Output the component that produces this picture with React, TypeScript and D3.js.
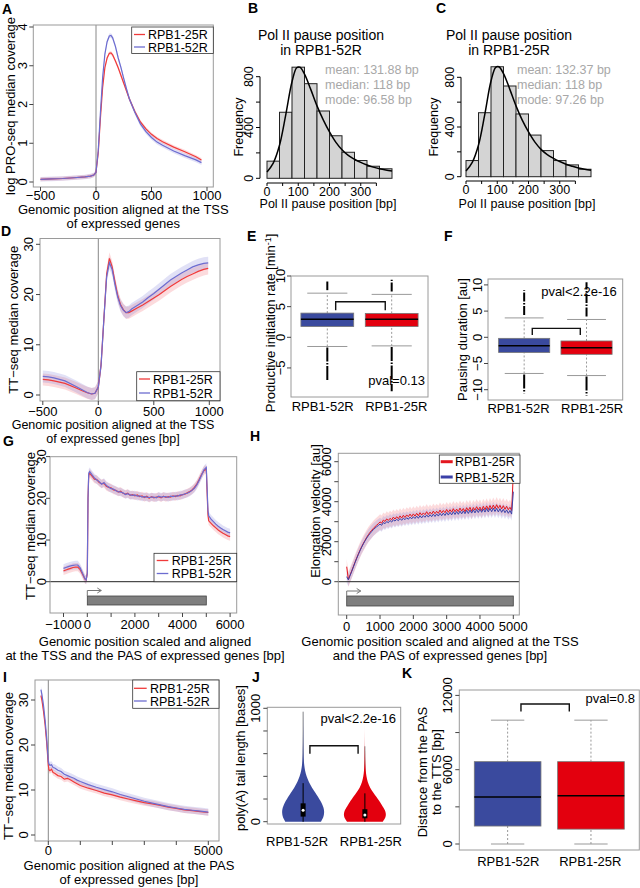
import React from "react";
import * as d3 from "d3";

const FONT = "'Liberation Sans', Arial, Helvetica, sans-serif";

// ================= DATA =================
const LEGEND_SERIES = ["RPB1-25R", "RPB1-52R"];
const GROUPS = ["RPB1-52R", "RPB1-25R"];

// A: PRO-seq around TSS
const A_POS = [-500,-400,-300,-200,-100,-50,-20,0,20,40,60,80,100,120,135,150,175,200,225,250,275,300,350,400,450,500,550,600,700,800,900,950];
const A_25R = [0.07,0.08,0.09,0.11,0.13,0.15,0.18,0.25,0.75,1.65,2.45,2.95,3.2,3.32,3.33,3.28,3.12,2.95,2.75,2.55,2.35,2.15,1.82,1.55,1.37,1.23,1.12,1.04,0.9,0.78,0.65,0.57];
const A_52R = [0.07,0.08,0.09,0.11,0.13,0.15,0.18,0.25,0.8,1.8,2.7,3.3,3.62,3.77,3.78,3.72,3.5,3.2,2.95,2.67,2.4,2.15,1.8,1.5,1.3,1.15,1.03,0.95,0.8,0.68,0.57,0.5];
const A_CI = [0.05, 0.06];
const A_XTICKS = [-500, 0, 500, 1000];
const A_YTICKS = [0, 1, 2, 3, 4];

// B, C: pause position histograms
const HIST_BREAKS = [0,40,80,120,160,200,240,280,320,360,400];
const B_COUNTS = [135,520,875,745,530,335,205,140,95,75];
const C_COUNTS = [130,515,885,730,505,335,210,130,95,60];
const DENS_X = [0,20,40,60,80,95,105,120,140,160,180,200,220,240,260,280,300,320,340,360,380,400];
const B_DENS = [50,120,260,500,760,870,875,820,700,570,460,365,285,225,180,150,125,105,88,75,65,57];
const C_DENS = [45,115,255,500,770,880,885,830,705,570,455,360,280,220,178,148,122,100,84,70,60,52];
const B_STATS = ["mean: 131.88 bp", "median: 118 bp", "mode: 96.58 bp"];
const C_STATS = ["mean: 132.37 bp", "median: 118 bp", "mode: 97.26 bp"];
const HIST_XTICKS = [0,50,100,150,200,250,300,350];
const HIST_XLABELS = [0,100,200,300];
const HIST_YTICKS = [0,200,400,600,800];
const HIST_YLABELS = [0,400,800];

// D: TT-seq around TSS
const D_POS = [-500,-450,-400,-300,-200,-150,-100,-60,-30,0,25,50,75,100,125,150,175,200,225,250,275,300,350,400,450,500,550,600,650,700,750,800,850,900,950,990];
const D_25R = [3.1,3.0,2.8,2.3,1.4,0.9,0.45,0.2,0.35,1.6,6,15,24,27.2,25.5,22.5,19.8,18.0,17.0,16.4,16.4,16.7,17.3,17.9,18.6,19.3,20.0,20.8,21.6,22.3,23.0,23.6,24.1,24.6,25.0,25.2];
const D_52R = [3.7,3.6,3.4,2.8,1.7,1.1,0.5,0.2,0.35,1.6,6,15,23.5,26.3,25.0,22.0,19.5,17.8,16.9,16.4,16.6,17.1,17.8,18.5,19.4,20.2,21.1,22.0,22.9,23.6,24.3,24.9,25.5,25.9,26.2,26.3];
const D_CI = [1.2, 1.2];
const D_YTICKS = [0, 10, 20, 30];

// E, F: boxplots  [min outlier, lower whisker, Q1, median, Q3, upper whisker, max outlier]
const E_52R = [-7.0,-1.5,1.75,2.95,3.95,7.2,9.1];
const E_25R = [-8.8,-1.4,1.75,2.95,3.9,7.0,9.4];
const F_52R = [-10.7,-6.9,-2.9,-1.6,-0.2,3.7,9.0];
const F_25R = [-11.1,-7.3,-3.25,-2.0,-0.7,3.4,10.5];
const E_BRACKET = [5.8, 4.4];
const F_BRACKET = [1.7, 0.45];
const E_YTICKS = [-5, 0, 5, 10];
const F_YTICKS = [-10, -5, 0, 5, 10];

// G: TT-seq metagene
const G_POS = [-1000,-900,-800,-700,-600,-500,-400,-300,-200,-100,-50,0,30,60,
  ...d3.range(100, 5001, 100),
  5030,5070,5100,5200,5300,5400,5500,5600,5700,5800,5900,6000];
const G_25R = [2.6,2.8,3.0,3.2,3.4,3.5,3.5,2.9,1.8,0.6,0.4,2,20,25.5,
  26.0,25.3,24.6,24.5,23.8,23.5,23.6,22.9,22.6,22.5,22.0,21.9,21.5,21.7,21.2,21.0,21.2,20.7,20.9,20.6,
  20.8,20.4,20.6,20.2,20.5,20.0,20.4,20.1,20.3,20.4,20.1,20.5,20.2,20.4,20.3,20.6,20.4,20.7,20.6,20.9,
  21.0,21.3,21.6,22.0,22.6,23.4,24.5,25.7,26.6,27.0,
  22,16,14.6,14.0,13.4,12.9,12.4,12.0,11.6,11.3,11.0,10.8];
const G_52R = [3.2,3.4,3.6,3.8,3.9,4.0,4.0,3.3,2.0,0.7,0.4,2,20,26,
  26.4,25.6,24.9,24.4,24.0,23.4,23.8,23.1,22.7,22.3,22.2,21.8,21.6,21.5,21.3,20.9,21.1,20.8,20.7,20.8,
  20.5,20.6,20.3,20.4,20.3,20.2,20.3,20.3,20.1,20.5,20.3,20.4,20.4,20.2,20.5,20.4,20.6,20.5,20.8,20.8,
  21.1,21.2,21.5,21.9,22.4,23.2,24.3,25.5,26.8,27.4,
  23,17,15.8,15.0,14.4,13.8,13.3,12.9,12.5,12.2,11.9,11.7];
const G_CI = [1.0, 1.0];
const G_XTICKS = [-1000,0,1000,2000,3000,4000,5000,6000];
const G_XLABELS = [-1000,0,2000,4000,6000];
const G_YTICKS = [0,10,20,30];
const GENE_SPAN = [0, 5000];

// H: elongation velocity (50 bp bins)
const H_POS = d3.range(0, 5001, 50);
const H_25R = [750,120,330,540,760,980,1190,1390,1580,1760,1920,2070,2220,2350,2470,2570,2670,2750,2830,2900,
  2990,2930,3080,3010,3140,3060,3170,3090,3230,3130,3250,3150,3290,3180,3320,3210,3340,3250,3380,3260,
  3390,3280,3420,3300,3450,3330,3440,3350,3500,3360,3480,3380,3530,3400,3520,3420,3580,3440,3560,3450,
  3610,3470,3600,3480,3650,3500,3630,3510,3680,3530,3660,3500,3700,3560,3720,3520,3710,3580,3750,3590,
  3730,3560,3770,3600,3790,3610,3810,3640,3830,3650,3850,3670,3820,3640,3800,3620,3770,3600,3720,3560,5400];
const H_52R = [250,90,300,510,730,950,1160,1360,1550,1730,1890,2040,2180,2300,2410,2510,2600,2680,2750,2810,
  2880,2820,2960,2900,3010,2950,3060,2980,3100,3030,3120,3050,3160,3070,3180,3100,3200,3120,3230,3140,
  3250,3160,3280,3170,3300,3190,3310,3220,3340,3230,3350,3250,3380,3260,3390,3280,3420,3300,3430,3310,
  3460,3330,3470,3340,3500,3360,3510,3370,3530,3390,3540,3400,3570,3410,3580,3430,3600,3440,3610,3460,
  3630,3470,3640,3480,3660,3490,3670,3500,3680,3510,3670,3490,3650,3470,3620,3450,3590,3420,3560,3380,4500];
const H_CI = [380, 320];
const H_XTICKS = [0,1000,2000,3000,4000,5000];
const H_YTICKS = [0,1000,2000,3000,4000,5000,6000];
const H_YLABELS = [0,2000,4000,6000];

// I: TT-seq around PAS
const I_POS = [-230,-200,-150,-100,-50,0,20,50,100,150,200,300,400,500,600,700,800,900,1000,1250,1500,1750,2000,2250,2500,2750,3000,3250,3500,3750,4000,4250,4500,4750,5000];
const I_25R = [31.0,30.0,27.5,24.5,20.5,15.5,14.5,14.3,14.6,13.9,13.7,13.2,13.0,12.4,12.6,12.2,11.8,11.4,11.0,10.4,9.9,9.3,8.9,8.4,8.0,7.6,7.2,6.9,6.6,6.2,5.9,5.6,5.4,5.2,5.0];
const I_52R = [32.3,31.2,28.8,25.5,21.5,16.3,15.8,15.5,15.6,15.0,14.9,14.4,14.1,13.5,13.2,12.9,12.6,12.2,11.9,11.2,10.6,10.1,9.6,9.0,8.5,8.0,7.5,7.1,6.7,6.3,6.0,5.7,5.5,5.3,5.1];
const I_CI = [0.7, 0.8];
const I_XTICKS = [0,1000,2000,3000,4000,5000];
const I_XLABELS = [0,5000];
const I_YTICKS = [0,10,20,30];

// J: poly(A) tail length violins
const J_LEVELS = [0,25,50,75,100,125,150,175,200,250,300,350,400,450,500,550,600,700,800,900,1000];
const J_DENS_52R = [0.85,0.93,0.98,1.0,1.0,0.97,0.92,0.85,0.77,0.6,0.42,0.27,0.16,0.09,0.05,0.03,0.02,0.01,0.005,0.002,0];
const J_DENS_25R = [0.85,0.95,1.0,1.0,0.96,0.88,0.8,0.71,0.62,0.42,0.24,0.13,0.07,0.04,0.025,0.015,0.01,0.002,0,0,0];
// [whisker low, Q1, median, Q3, whisker high, max]
const J_BOX_52R = [0,45,100,162,340,970];
const J_BOX_25R = [0,30,59,110,250,665];
const J_BRACKET = [670, 600];
const J_YTICKS = [0,200,400,600,800,1000];
const J_YLABELS = [0,1000];

// K: distance PAS -> TTS  [lower whisker, Q1, median, Q3, upper whisker]
const K_52R = [0,1450,3800,6650,10000];
const K_25R = [0,1200,3900,6650,10000];
const K_BRACKET = [11300, 10700];
const K_YTICKS = [0,3000,6000,9000,12000];
const K_YLABELS = [0,6000,12000];

const PVALS = { E: "pval=0.13", F: "pval<2.2e-16", J: "pval<2.2e-16", K: "pval=0.8" };

// ================= STYLE =================
const RED = "#f03a3a";
const BLUE = "#6c6cd0";
const RED_BAND = "rgba(240,90,100,0.22)";
const BLUE_BAND = "rgba(120,120,215,0.22)";
const RED_H = "#e3161f";
const BLUE_H = "#3a40a8";
const BOX_BLUE = "#3a4a9e";
const BOX_RED = "#e3000e";
const FRAME = "#9a9a9a";
const TICK = "#444";
const FS = 13;

const fmt = (v: number) => (v < 0 ? "\u2212" + Math.abs(v) : String(v));

// ================= HELPERS =================
function Frame({ l, t, r, b }: any) {
  return <rect x={l} y={t} width={r - l} height={b - t} fill="none" stroke={FRAME} strokeWidth={1} />;
}

function YAxis({ y, x, ticks, labels, line = false, len = 4, off = 7, fs = FS, color = TICK }: any) {
  const labs = labels || ticks;
  return (
    <g>
      {line && <line x1={x} x2={x} y1={y(ticks[0])} y2={y(ticks[ticks.length - 1])} stroke={color} />}
      {ticks.map((v: number) => (
        <line key={"t" + v} x1={x} x2={x - len} y1={y(v)} y2={y(v)} stroke={color} />
      ))}
      {labs.map((v: number) => (
        <text key={"l" + v} transform={`translate(${x - off},${y(v)}) rotate(-90)`} textAnchor="middle" fontSize={fs}>
          {fmt(v)}
        </text>
      ))}
    </g>
  );
}

function XAxis({ x, y, ticks, labels, line = false, len = 4, off = 14, fs = FS, color = TICK }: any) {
  const labs = labels || ticks;
  return (
    <g>
      {line && <line x1={x(ticks[0])} x2={x(ticks[ticks.length - 1])} y1={y} y2={y} stroke={color} />}
      {ticks.map((v: number) => (
        <line key={"t" + v} x1={x(v)} x2={x(v)} y1={y} y2={y + len} stroke={color} />
      ))}
      {labs.map((v: number) => (
        <text key={"l" + v} x={x(v)} y={y + off} textAnchor="middle" fontSize={fs}>
          {fmt(v)}
        </text>
      ))}
    </g>
  );
}

// x is the visual centre of the (first) rotated line
function YTitle({ x, y, lines, fs = FS }: any) {
  return (
    <g>
      {lines.map((s: any, i: number) => (
        <text key={i} transform={`translate(${x + fs * 0.36 + i * fs * 1.12},${y}) rotate(-90)`} textAnchor="middle" fontSize={fs}>
          {s}
        </text>
      ))}
    </g>
  );
}

// y is the baseline of the first line
function XTitle({ x, y, lines, fs = FS }: any) {
  return (
    <g>
      {lines.map((s: string, i: number) => (
        <text key={i} x={x} y={y + i * fs * 1.1} textAnchor="middle" fontSize={fs}>
          {s}
        </text>
      ))}
    </g>
  );
}

function Letter({ x, y, c }: any) {
  return (
    <text x={x} y={y} fontSize={14} fontWeight="bold">
      {c}
    </text>
  );
}

function Legend({ x, y, w, h, rows, lx, tx, colors, lw = 1.3, fs = 12.5 }: any) {
  return (
    <g>
      <rect x={x} y={y} width={w} height={h} fill="white" stroke="#333" strokeWidth={0.8} />
      {LEGEND_SERIES.map((s, i) => (
        <g key={s}>
          <line x1={lx[0]} x2={lx[1]} y1={rows[i]} y2={rows[i]} stroke={colors[i]} strokeWidth={lw} />
          <text x={tx} y={rows[i] + fs * 0.36} fontSize={fs}>
            {s}
          </text>
        </g>
      ))}
    </g>
  );
}

function Profiles({ pos, series, x, y }: any) {
  return (
    <g>
      {series.map((s: any, i: number) => (
        <path
          key={"b" + i}
          d={d3.area<number>().x((_, j) => x(pos[j])).y0((v) => y(v - s.ci)).y1((v) => y(v + s.ci))(s.vals) || ""}
          fill={s.band}
        />
      ))}
      {series.map((s: any, i: number) => (
        <path
          key={"l" + i}
          d={d3.line<number>().x((_, j) => x(pos[j])).y((v) => y(v))(s.vals) || ""}
          fill="none"
          stroke={s.color}
          strokeWidth={s.w || 1.2}
        />
      ))}
    </g>
  );
}

function Bracket({ x1, x2, yTop, yLeg }: any) {
  return <path d={`M${x1},${yLeg} V${yTop} H${x2} V${yLeg}`} fill="none" stroke="#111" strokeWidth={1.4} />;
}

function GroupLabels({ x, y, half }: any) {
  const mid = ((x(GROUPS[0]) as number) + (x(GROUPS[1]) as number)) / 2;
  return (
    <g>
      {GROUPS.map((g, i) => (
        <text key={g} x={mid + (i === 0 ? -half : half)} y={y} textAnchor="middle" fontSize={FS}>
          {g}
        </text>
      ))}
    </g>
  );
}

// ================= PANELS =================
function PanelA() {
  const L = 33.3, R = 213.3, T = 25, B = 187;
  const x = d3.scaleLinear().domain([0, 500]).range([96, 151.5]);
  const y = d3.scaleLinear().domain([0, 4]).range([182, 27]);
  return (
    <g>
      <Letter x={2} y={14} c="A" />
      <line x1={x(0)} x2={x(0)} y1={T} y2={B} stroke="#888" />
      <Profiles
        pos={A_POS}
        x={x}
        y={y}
        series={[
          { vals: A_25R, color: RED, band: RED_BAND, ci: A_CI[0] },
          { vals: A_52R, color: BLUE, band: BLUE_BAND, ci: A_CI[1] },
        ]}
      />
      <Frame l={L} t={T} r={R} b={B} />
      <Legend x={131.7} y={27} w={81.6} h={26.5} rows={[34.5, 47]} lx={[134, 145]} tx={148} colors={[RED, BLUE]} />
      <YAxis y={y} x={L} ticks={A_YTICKS} off={6} />
      <XAxis x={x} y={B} ticks={A_XTICKS} off={12.5} />
      <YTitle x={10} y={(T + B) / 2} lines={["log PRO-seq median coverage"]} />
      <XTitle x={(L + R) / 2} y={213.5} lines={["Genomic position aligned at the TSS", "of expressed genes"]} />
    </g>
  );
}

function Hist({ counts, dens, stats, title, yAxisX, x0, x1, y0, y1, xAxisY, letterX, titleX, statX, xtX, ytX }: any) {
  const x = d3.scaleLinear().domain([0, 400]).range([x0, x1]);
  const y = d3.scaleLinear().domain([0, 800]).range([y0, y1]);
  const line = d3.line<number>().x((_, j) => x(DENS_X[j])).y((v) => y(v)).curve(d3.curveCatmullRom);
  return (
    <g>
      <Letter x={letterX} y={13} c={title[2]} />
      {counts.map((c: number, i: number) => (
        <rect
          key={i}
          x={x(HIST_BREAKS[i])}
          y={y(c)}
          width={x(HIST_BREAKS[i + 1]) - x(HIST_BREAKS[i])}
          height={y(0) - y(c)}
          fill="#d4d4d4"
          stroke="#222"
          strokeWidth={1}
        />
      ))}
      <path d={line(dens) || ""} fill="none" stroke="#000" strokeWidth={1.5} />
      <YAxis y={y} x={yAxisX} ticks={HIST_YTICKS} labels={HIST_YLABELS} line color="#000" fs={12.5} />
      <XAxis x={x} y={xAxisY} ticks={HIST_XTICKS} labels={HIST_XLABELS} line color="#000" len={3} off={12.5} fs={12.5} />
      <XTitle x={titleX} y={39.5} lines={title.slice(0, 2)} fs={14} />
      {stats.map((s: string, i: number) => (
        <text key={s} x={statX} y={74 + i * 15} fontSize={12.5} fill="#a8a8a8">
          {s}
        </text>
      ))}
      <YTitle x={ytX} y={127} lines={["Frequency"]} fs={12.5} />
      <XTitle x={xtX} y={208} lines={["Pol II pause position [bp]"]} fs={12.5} />
    </g>
  );
}

function PanelD() {
  const L = 40, R = 220, T = 238.5, B = 401;
  const x = d3.scaleLinear().domain([0, 1000]).range([98.3, 209.3]);
  const y = d3.scaleLinear().domain([0, 30]).range([395, 244.3]);
  return (
    <g>
      <Letter x={1} y={236} c="D" />
      <line x1={x(0)} x2={x(0)} y1={T} y2={B} stroke="#888" />
      <Profiles
        pos={D_POS}
        x={x}
        y={y}
        series={[
          { vals: D_25R, color: RED, band: RED_BAND, ci: D_CI[0] },
          { vals: D_52R, color: BLUE, band: BLUE_BAND, ci: D_CI[1] },
        ]}
      />
      <Frame l={L} t={T} r={R} b={B} />
      <Legend x={136.7} y={371.7} w={83.3} h={29} rows={[379, 393]} lx={[139, 150]} tx={153} colors={[RED, BLUE]} />
      <YAxis y={y} x={L} ticks={D_YTICKS} />
      <XAxis x={x} y={B} ticks={A_XTICKS} off={15} />
      <YTitle x={13.3} y={(T + B) / 2} lines={["TT\u2212seq median coverage"]} />
      <XTitle x={113} y={429} lines={["Genomic position aligned at the TSS", "of expressed genes [bp]"]} fs={12.5} />
    </g>
  );
}

function BoxPanel({ L, R, T, B, pad, yDom, yRange, stats, bracket, ticks, pval, pvalX, pvalY, ylab, ylabX, ylabY, xlabY, letter, letterXY }: any) {
  const y = d3.scaleLinear().domain(yDom).range(yRange);
  const x = d3.scalePoint<string>().domain(GROUPS).range([L, R]).padding(pad);
  const step = x.step();
  const bw = step * 0.82;
  const fills = [BOX_BLUE, BOX_RED];
  const bx1 = (x(GROUPS[0]) as number) + step * 0.13;
  const bx2 = (x(GROUPS[1]) as number) - step * 0.1;
  return (
    <g>
      <Letter x={letterXY[0]} y={letterXY[1]} c={letter} />
      <Frame l={L} t={T} r={R} b={B} />
      {GROUPS.map((g, i) => {
        const s = stats[i];
        const cx = x(g) as number;
        const cap = bw * 0.38;
        return (
          <g key={g}>
            <line x1={cx} x2={cx} y1={y(s[1])} y2={y(s[2])} stroke="#999" strokeDasharray="2,2" />
            <line x1={cx} x2={cx} y1={y(s[4])} y2={y(s[5])} stroke="#999" strokeDasharray="2,2" />
            <line x1={cx - cap} x2={cx + cap} y1={y(s[1])} y2={y(s[1])} stroke="#999" />
            <line x1={cx - cap} x2={cx + cap} y1={y(s[5])} y2={y(s[5])} stroke="#999" />
            <line x1={cx} x2={cx} y1={y(s[5]) - 3} y2={y(s[6])} stroke="#000" strokeWidth={2} strokeDasharray="9,1.5,1.5,1.5" />
            <line x1={cx} x2={cx} y1={y(s[1]) + 1} y2={y(s[0])} stroke="#000" strokeWidth={2} strokeDasharray="14,1.5,1.5,1.5" />
            <rect x={cx - bw / 2} y={y(s[4])} width={bw} height={y(s[2]) - y(s[4])} fill={fills[i]} stroke="#777" strokeWidth={0.8} />
            <line x1={cx - bw / 2} x2={cx + bw / 2} y1={y(s[3])} y2={y(s[3])} stroke="#000" strokeWidth={1.6} />
          </g>
        );
      })}
      <GroupLabels x={x} y={xlabY} half={36.8} />
      <Bracket x1={bx1} x2={bx2} yTop={y(bracket[0])} yLeg={y(bracket[1])} />
      <text x={pvalX} y={pvalY} textAnchor="end" fontSize={FS}>
        {pval}
      </text>
      <YAxis y={y} x={L} ticks={ticks} off={6} />
      <YTitle x={ylabX} y={ylabY} lines={[ylab]} />
    </g>
  );
}

function GeneTrack({ x, y0, y1, arrowY }: any) {
  const gx0 = x(GENE_SPAN[0]);
  const gx1 = x(GENE_SPAN[1]);
  return (
    <g>
      <rect x={gx0} y={y0} width={gx1 - gx0} height={y1 - y0} fill="#7f7f7f" stroke="#444" strokeWidth={0.8} />
      <path d={`M${gx0},${y0} V${arrowY} H${gx0 + 14}`} fill="none" stroke="#777" strokeWidth={1} />
      <path d={`M${gx0 + 10},${arrowY - 2.5} L${gx0 + 14},${arrowY} L${gx0 + 10},${arrowY + 2.5}`} fill="none" stroke="#777" strokeWidth={1} />
    </g>
  );
}

function PanelG() {
  const L = 50, R = 236.7, T = 456.7, B = 613;
  const x = d3.scaleLinear().domain([0, 5000]).range([87.3, 206.3]);
  const y = d3.scaleLinear().domain([0, 30]).range([581.7, 456.6]);
  return (
    <g>
      <Letter x={3} y={446} c="G" />
      <Profiles
        pos={G_POS}
        x={x}
        y={y}
        series={[
          { vals: G_25R, color: RED, band: RED_BAND, ci: G_CI[0] },
          { vals: G_52R, color: BLUE, band: BLUE_BAND, ci: G_CI[1] },
        ]}
      />
      <line x1={L} x2={R} y1={y(0)} y2={y(0)} stroke="#222" />
      <GeneTrack x={x} y0={596} y1={605} arrowY={590.5} />
      <Frame l={L} t={T} r={R} b={B} />
      <Legend x={154} y={553.3} w={82.7} h={28.4} rows={[560.5, 573.5]} lx={[156.7, 168.3]} tx={171.7} colors={[RED, BLUE]} />
      <YAxis y={y} x={L} ticks={G_YTICKS} off={4.5} />
      <XAxis x={x} y={B} ticks={G_XTICKS} labels={G_XLABELS} off={16} />
      <YTitle x={30} y={526} lines={["TT\u2212seq median coverage"]} />
      <XTitle x={145} y={646} lines={["Genomic position scaled and aligned", "at the TSS and the PAS of expressed genes [bp]"]} />
    </g>
  );
}

function PanelH() {
  const L = 338.3, R = 519.3, T = 453.3, B = 615;
  const x = d3.scaleLinear().domain([0, 5000]).range([346.7, 513.3]);
  const y = d3.scaleLinear().domain([0, 6000]).range([581.7, 461.7]);
  return (
    <g>
      <Letter x={250} y={441} c="H" />
      <Profiles
        pos={H_POS}
        x={x}
        y={y}
        series={[
          { vals: H_25R, color: RED_H, band: RED_BAND, ci: H_CI[0], w: 1 },
          { vals: H_52R, color: BLUE_H, band: BLUE_BAND, ci: H_CI[1], w: 1 },
        ]}
      />
      <line x1={L} x2={R} y1={y(0)} y2={y(0)} stroke="#222" />
      <GeneTrack x={x} y0={596} y1={606} arrowY={591} />
      <Frame l={L} t={T} r={R} b={B} />
      <Legend x={439.3} y={455} w={80.7} h={28.3} rows={[461.7, 477]} lx={[440.7, 452.7]} tx={455} colors={[RED_H, BLUE_H]} lw={3} />
      <YAxis y={y} x={L} ticks={H_YTICKS} labels={H_YLABELS} />
      <XAxis x={x} y={B} ticks={H_XTICKS} off={15.5} />
      <YTitle x={315} y={511} lines={["Elongation velocity [au]"]} />
      <XTitle x={440} y={646} lines={["Genomic position scaled and aligned at the TSS", "and the PAS of expressed genes [bp]"]} />
    </g>
  );
}

function PanelI() {
  const L = 35, R = 219, T = 680, B = 841;
  const x = d3.scaleLinear().domain([0, 5000]).range([48.3, 208.3]);
  const y = d3.scaleLinear().domain([0, 30]).range([835, 700]);
  return (
    <g>
      <Letter x={3} y={682} c="I" />
      <line x1={x(0)} x2={x(0)} y1={T} y2={B} stroke="#888" />
      <Profiles
        pos={I_POS}
        x={x}
        y={y}
        series={[
          { vals: I_25R, color: RED, band: RED_BAND, ci: I_CI[0] },
          { vals: I_52R, color: BLUE, band: BLUE_BAND, ci: I_CI[1] },
        ]}
      />
      <Frame l={L} t={T} r={R} b={B} />
      <Legend x={132.7} y={680} w={86.3} h={28.3} rows={[688.3, 701]} lx={[134, 146.7]} tx={150} colors={[RED, BLUE]} />
      <YAxis y={y} x={L} ticks={I_YTICKS} />
      <XAxis x={x} y={B} ticks={I_XTICKS} labels={I_XLABELS} />
      <YTitle x={8.3} y={766} lines={["TT\u2212seq median coverage"]} />
      <XTitle x={129} y={869.5} lines={["Genomic position aligned at the PAS", "of expressed genes [bp]"]} />
    </g>
  );
}

function PanelJ() {
  const L = 267.3, R = 400.7, T = 707.3, B = 824;
  const y = d3.scaleLinear().domain([0, 1000]).range([821.7, 708.3]);
  const x = d3.scalePoint<string>().domain(GROUPS).range([L, R]).padding(0.58);
  const step = x.step();
  const half = step * 0.34;
  const dens = [J_DENS_52R, J_DENS_25R];
  const boxes = [J_BOX_52R, J_BOX_25R];
  const fills = [BOX_BLUE, BOX_RED];
  const bx1 = (x(GROUPS[0]) as number) + step * 0.11;
  const bx2 = (x(GROUPS[1]) as number) - step * 0.11;
  return (
    <g>
      <Letter x={252} y={682} c="J" />
      <Frame l={L} t={T} r={R} b={B} />
      {GROUPS.map((g, i) => {
        const cx = x(g) as number;
        const area = d3
          .area<number>()
          .y((_, j) => y(J_LEVELS[j]))
          .x0((d) => cx - d * half)
          .x1((d) => cx + d * half)
          .curve(d3.curveBasis);
        const b = boxes[i];
        return (
          <g key={g}>
            <line x1={cx} x2={cx} y1={y(0)} y2={y(b[5])} stroke="#888" strokeWidth={1} />
            <path d={area(dens[i]) || ""} fill={fills[i]} />
            <line x1={cx} x2={cx} y1={y(b[0])} y2={y(b[4])} stroke="#000" strokeWidth={1} />
            <rect x={cx - 2.5} y={y(b[3])} width={5} height={y(b[1]) - y(b[3])} fill="#000" />
            <circle cx={cx} cy={y(b[2])} r={1.5} fill="#fff" />
          </g>
        );
      })}
      <GroupLabels x={x} y={846} half={36.9} />
      <Bracket x1={bx1} x2={bx2} yTop={y(J_BRACKET[0])} yLeg={y(J_BRACKET[1])} />
      <text x={396} y={723} textAnchor="end" fontSize={FS}>
        {PVALS.J}
      </text>
      <YAxis y={y} x={L} ticks={J_YTICKS} labels={J_YLABELS} />
      <YTitle x={240} y={758} lines={["poly(A) tail length [bases]"]} />
    </g>
  );
}

function PanelK() {
  const L = 459.3, R = 639.3, T = 690, B = 850;
  const y = d3.scaleLinear().domain([0, 12000]).range([844, 695.4]);
  const x = d3.scalePoint<string>().domain(GROUPS).range([L, R]).padding(0.58);
  const step = x.step();
  const bw = step * 0.8;
  const stats = [K_52R, K_25R];
  const fills = [BOX_BLUE, BOX_RED];
  const bx1 = (x(GROUPS[0]) as number) + step * 0.16;
  const bx2 = (x(GROUPS[1]) as number) - step * 0.26;
  return (
    <g>
      <Letter x={402} y={678} c="K" />
      <Frame l={L} t={T} r={R} b={B} />
      {GROUPS.map((g, i) => {
        const s = stats[i];
        const cx = x(g) as number;
        const cap = bw * 0.25;
        return (
          <g key={g}>
            <line x1={cx} x2={cx} y1={y(s[0])} y2={y(s[1])} stroke="#999" strokeDasharray="2,2" />
            <line x1={cx} x2={cx} y1={y(s[3])} y2={y(s[4])} stroke="#999" strokeDasharray="2,2" />
            <line x1={cx - cap} x2={cx + cap} y1={y(s[0])} y2={y(s[0])} stroke="#999" />
            <line x1={cx - cap} x2={cx + cap} y1={y(s[4])} y2={y(s[4])} stroke="#999" />
            <rect x={cx - bw / 2} y={y(s[3])} width={bw} height={y(s[1]) - y(s[3])} fill={fills[i]} stroke="#777" strokeWidth={0.8} />
            <line x1={cx - bw / 2} x2={cx + bw / 2} y1={y(s[2])} y2={y(s[2])} stroke="#000" strokeWidth={1.6} />
          </g>
        );
      })}
      <GroupLabels x={x} y={866} half={41} />
      <Bracket x1={bx1} x2={bx2} yTop={y(K_BRACKET[0])} yLeg={y(K_BRACKET[1])} />
      <text x={635} y={703} textAnchor="end" fontSize={FS}>
        {PVALS.K}
      </text>
      <YAxis y={y} x={L} ticks={K_YTICKS} labels={K_YLABELS} />
      <YTitle x={422} y={772} lines={["Distance from the PAS", "to the TTS [bp]"]} />
    </g>
  );
}

export default function App() {
  return (
    <svg
      width={640}
      height={888}
      viewBox="0 0 640 888"
      style={{ position: "absolute", left: 0, top: 0, background: "#fff" }}
      fontFamily={FONT}
    >
      <rect x={0} y={0} width={640} height={888} fill="#fff" />
      <PanelA />
      <Hist
        counts={B_COUNTS}
        dens={B_DENS}
        stats={B_STATS}
        title={["Pol II pause position", "in RPB1-52R", "B"]}
        yAxisX={260}
        x0={267}
        x1={392}
        y0={178.3}
        y1={76.7}
        xAxisY={183}
        letterX={248}
        titleX={321}
        statX={325}
        xtX={328}
        ytX={238.3}
      />
      <Hist
        counts={C_COUNTS}
        dens={C_DENS}
        stats={C_STATS}
        title={["Pol II pause position", "in RPB1-25R", "C"]}
        yAxisX={461}
        x0={466}
        x1={591}
        y0={176.7}
        y1={77.3}
        xAxisY={181}
        letterX={436}
        titleX={509}
        statX={517}
        xtX={527}
        ytX={433.3}
      />
      <PanelD />
      <BoxPanel
        L={291}
        R={428}
        T={276}
        B={397}
        pad={0.564}
        yDom={[0, 10]}
        yRange={[337.3, 276]}
        stats={[E_52R, E_25R]}
        bracket={E_BRACKET}
        ticks={E_YTICKS}
        pval={PVALS.E}
        pvalX={425}
        pvalY={385}
        ylab={
          <tspan>
            Productive initiation rate [min<tspan dy={-4} fontSize={9}>-1</tspan>
            <tspan dy={4}>]</tspan>
          </tspan>
        }
        ylabX={270}
        ylabY={323}
        xlabY={410.5}
        letter="E"
        letterXY={[247, 241]}
      />
      <BoxPanel
        L={488}
        R={622.7}
        T={279}
        B={400}
        pad={0.58}
        yDom={[0, 10]}
        yRange={[337.3, 284.9]}
        stats={[F_52R, F_25R]}
        bracket={F_BRACKET}
        ticks={F_YTICKS}
        pval={PVALS.F}
        pvalX={616.7}
        pvalY={296}
        ylab="Pausing duration [au]"
        ylabX={462.7}
        ylabY={339.5}
        xlabY={412.8}
        letter="F"
        letterXY={[444, 241]}
      />
      <PanelG />
      <PanelH />
      <PanelI />
      <PanelJ />
      <PanelK />
    </svg>
  );
}
